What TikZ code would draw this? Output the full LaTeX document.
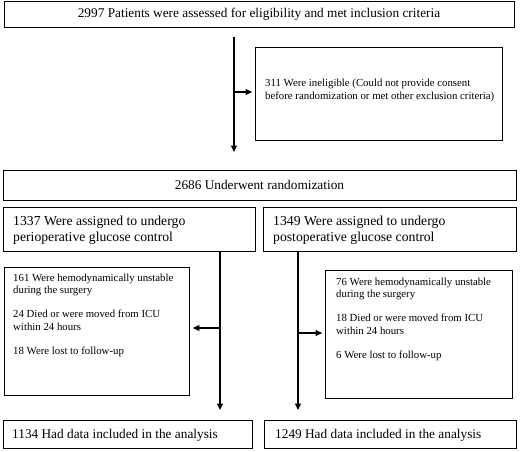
\documentclass[tikz,border=0pt]{standalone}
\usepackage{fontspec}
\setmainfont{Liberation Serif}
\usetikzlibrary{arrows.meta}
\begin{document}
\begin{tikzpicture}[x=1pt,y=-1pt,
  box/.style={draw, line width=0.8pt, inner sep=0pt, rectangle},
  arr/.style={line width=1.1pt, -{Triangle[length=6.5pt,width=6pt]}, shorten >=2.5pt},
  bigtext/.style={font=\fontsize{13.3}{14}\selectfont},
  grptext/.style={font=\fontsize{13.7}{15.5}\selectfont},
  smalltext/.style={font=\fontsize{10.8}{12.8}\selectfont},
  lbl/.style={inner sep=0pt, anchor=base west}]
\useasboundingbox (0,0) rectangle (520,452);
% boxes
\node[box, bigtext, minimum width=510pt, minimum height=26pt] (top) at (259,14)
  {2997 Patients were assessed for eligibility and met inclusion criteria};
\node[box, minimum width=247pt, minimum height=93pt] (excl) at (378.5,93.5) {};
\node[lbl, smalltext] (exclt) at (265,87)
  {\parbox[t]{235pt}{\raggedright 311 Were ineligible (Could not provide consent\\
   before randomization or met other exclusion criteria)}};
\node[box, bigtext, minimum width=513pt, minimum height=30pt] (rand) at (259.5,185)
  {2686 Underwent randomization};
\node[box, minimum width=252pt, minimum height=44pt] (gL) at (129,229) {};
\node[lbl, grptext] (gLt) at (13,225.5)
  {\parbox[t]{240pt}{\raggedright 1337 Were assigned to undergo\\ perioperative glucose control}};
\node[box, minimum width=253pt, minimum height=44pt] (gR) at (389.5,229) {};
\node[lbl, grptext] (gRt) at (273,225.5)
  {\parbox[t]{240pt}{\raggedright 1349 Were assigned to undergo\\ postoperative glucose control}};
\node[box, minimum width=185pt, minimum height=128pt] (eL) at (96.5,331) {};
\node[lbl, smalltext] (eLt) at (13,281)
  {\parbox[t]{175pt}{\raggedright 161 Were hemodynamically unstable\\ during the surgery\\[11pt]
   24 Died or were moved from ICU\\ within 24 hours\\[11pt] 18 Were lost to follow-up}};
\node[box, minimum width=187pt, minimum height=128pt] (eR) at (418.5,334) {};
\node[lbl, smalltext] (eRt) at (336,285)
  {\parbox[t]{175pt}{\raggedright 76 Were hemodynamically unstable\\ during the surgery\\[11pt]
   18 Died or were moved from ICU\\ within 24 hours\\[11pt] 6 Were lost to follow-up}};
\node[box, minimum width=249pt, minimum height=28pt] (bL) at (127.5,434) {};
\node[lbl, bigtext] (bLt) at (12,438) {1134 Had data included in the analysis};
\node[box, minimum width=252pt, minimum height=28pt] (bR) at (390,434) {};
\node[lbl, bigtext] (bRt) at (275,438) {1249 Had data included in the analysis};
% connectors
\coordinate (m1) at (234,37);
\coordinate (m2) at (234,152);
\coordinate (mb) at (234,92);
\draw[arr, shorten >=0pt] (m1) -- (m2);
\draw[arr] (mb) -- (mb -| excl.west);
\coordinate (l2) at (220,410);
\coordinate (lb) at (220,328);
\draw[arr, shorten >=0pt] (l2 |- gL.south) -- (l2);
\draw[arr, shorten >=3.5pt] (lb) -- (lb -| eL.east);
\coordinate (r2) at (298,410);
\coordinate (rb) at (298,333);
\draw[arr, shorten >=0pt] (r2 |- gR.south) -- (r2);
\draw[arr] (rb) -- (rb -| eR.west);
\end{tikzpicture}
\end{document}
